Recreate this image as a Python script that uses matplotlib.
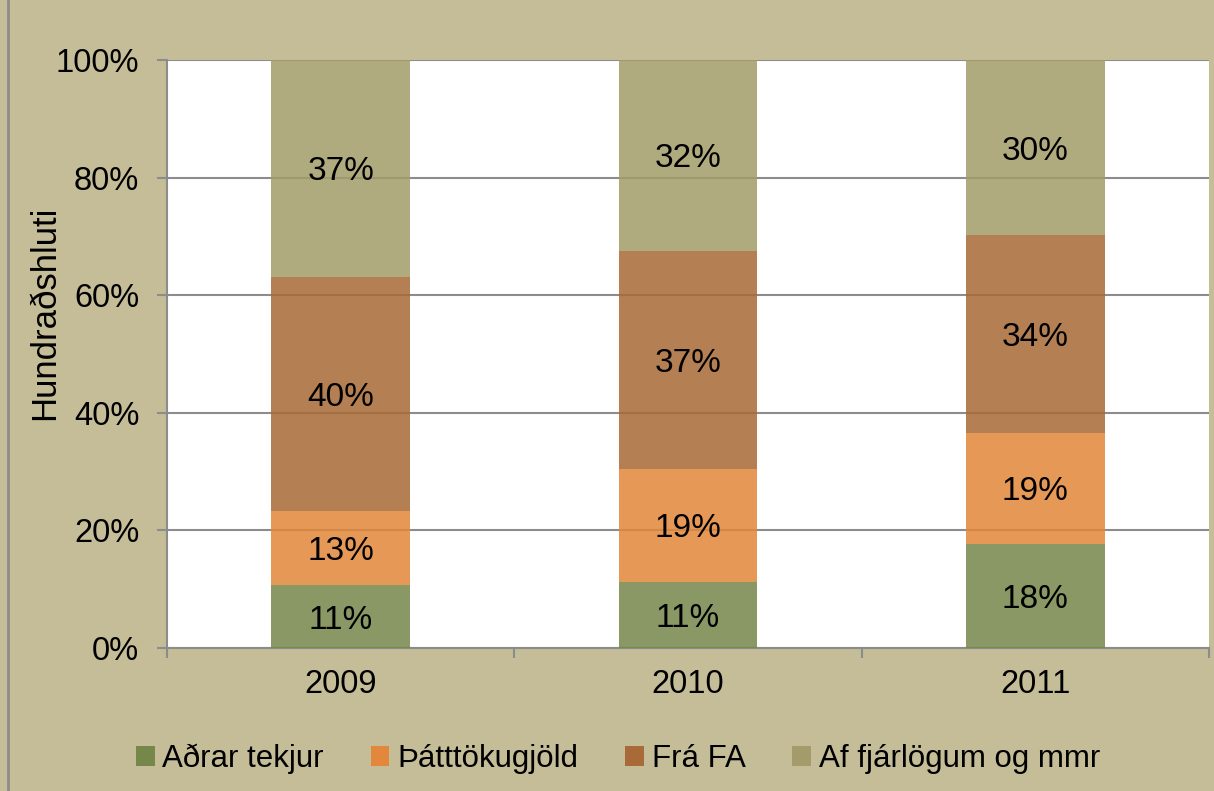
import matplotlib
matplotlib.use("Agg")
import matplotlib.pyplot as plt
from matplotlib.patches import Patch
from matplotlib.lines import Line2D
import numpy as np

years = ["2009", "2010", "2011"]
series_names = ["Aðrar tekjur", "Þátttökugjöld", "Frá FA", "Af fjárlögum og mmr"]
adrar_tekjur = [10.7, 11.3, 17.7]
thatttokugjold = [12.6, 19.1, 18.9]
fra_fa = [39.8, 37.2, 33.6]
af_fjarlogum = [36.9, 32.4, 29.8]
yticks = [0, 20, 40, 60, 80, 100]

colors = ["#76874A", "#E2873B", "#A86A36", "#A39C6A"]
bg = "#C4BD97"

plt.rcParams['font.family'] = ['Liberation Sans', 'DejaVu Sans']

fig = plt.figure(figsize=(12.14, 7.91), dpi=100, facecolor=bg)
ax = fig.add_axes([167 / 1214, 143 / 791, 1042 / 1214, 588 / 791])
ax.set_facecolor("white")

x = np.arange(len(years))
bottom = np.zeros(len(years))
for vals, c in zip([adrar_tekjur, thatttokugjold, fra_fa, af_fjarlogum], colors):
    vals = np.array(vals)
    ax.bar(x, vals, width=0.4, bottom=bottom, color=c, alpha=0.86,
           linewidth=0, zorder=3)
    for xi, b, v in zip(x, bottom, vals):
        ax.text(xi, b + v / 2, f"{v:.0f}%", ha="center", va="center_baseline",
                fontsize=24, color="black", zorder=4)
    bottom += vals

ax.set_xlim(-0.5, 2.5)
ax.set_ylim(0, 100)
ax.set_yticks(yticks)
ax.set_yticklabels([f"{t}%" for t in yticks], fontsize=23.5)
ax.set_xticks(x)
ax.set_xticklabels(years, fontsize=23.5)
ax.set_xticks([-0.5, 0.5, 1.5, 2.5], minor=True)
ax.tick_params(axis="x", which="major", length=0, pad=15)
ax.tick_params(axis="x", which="minor", length=7, width=1.5, color="#8C8C8C", direction="out")
ax.tick_params(axis="y", length=7, width=1.5, color="#8C8C8C", pad=13)
ax.grid(axis="y", color="#8C8C8C", linewidth=1.5, zorder=0)
ax.set_axisbelow(True)

for side in ["top", "right"]:
    ax.spines[side].set_visible(False)
for side in ["left", "bottom"]:
    ax.spines[side].set_color("#8C8C8C")
    ax.spines[side].set_linewidth(1.5)

fig.text(45 / 1214, 1 - 313 / 791, "Hundraðshluti", rotation=90, fontsize=25,
         ha="center", va="center")

handles = [Patch(facecolor=c, edgecolor="none") for c in colors]
fig.legend(handles, series_names, loc="center", bbox_to_anchor=(618 / 1214, 1 - 759 / 791),
           ncol=4, frameon=False, fontsize=22.5, handlelength=0.6, handleheight=0.6,
           handletextpad=0.25, columnspacing=1.5)

# left frame line
fig.add_artist(Line2D([8 / 1214, 8 / 1214], [0, 1], color="#8C8C8C", linewidth=2,
                      transform=fig.transFigure))

fig.savefig("out.png", dpi=100, facecolor=bg)
